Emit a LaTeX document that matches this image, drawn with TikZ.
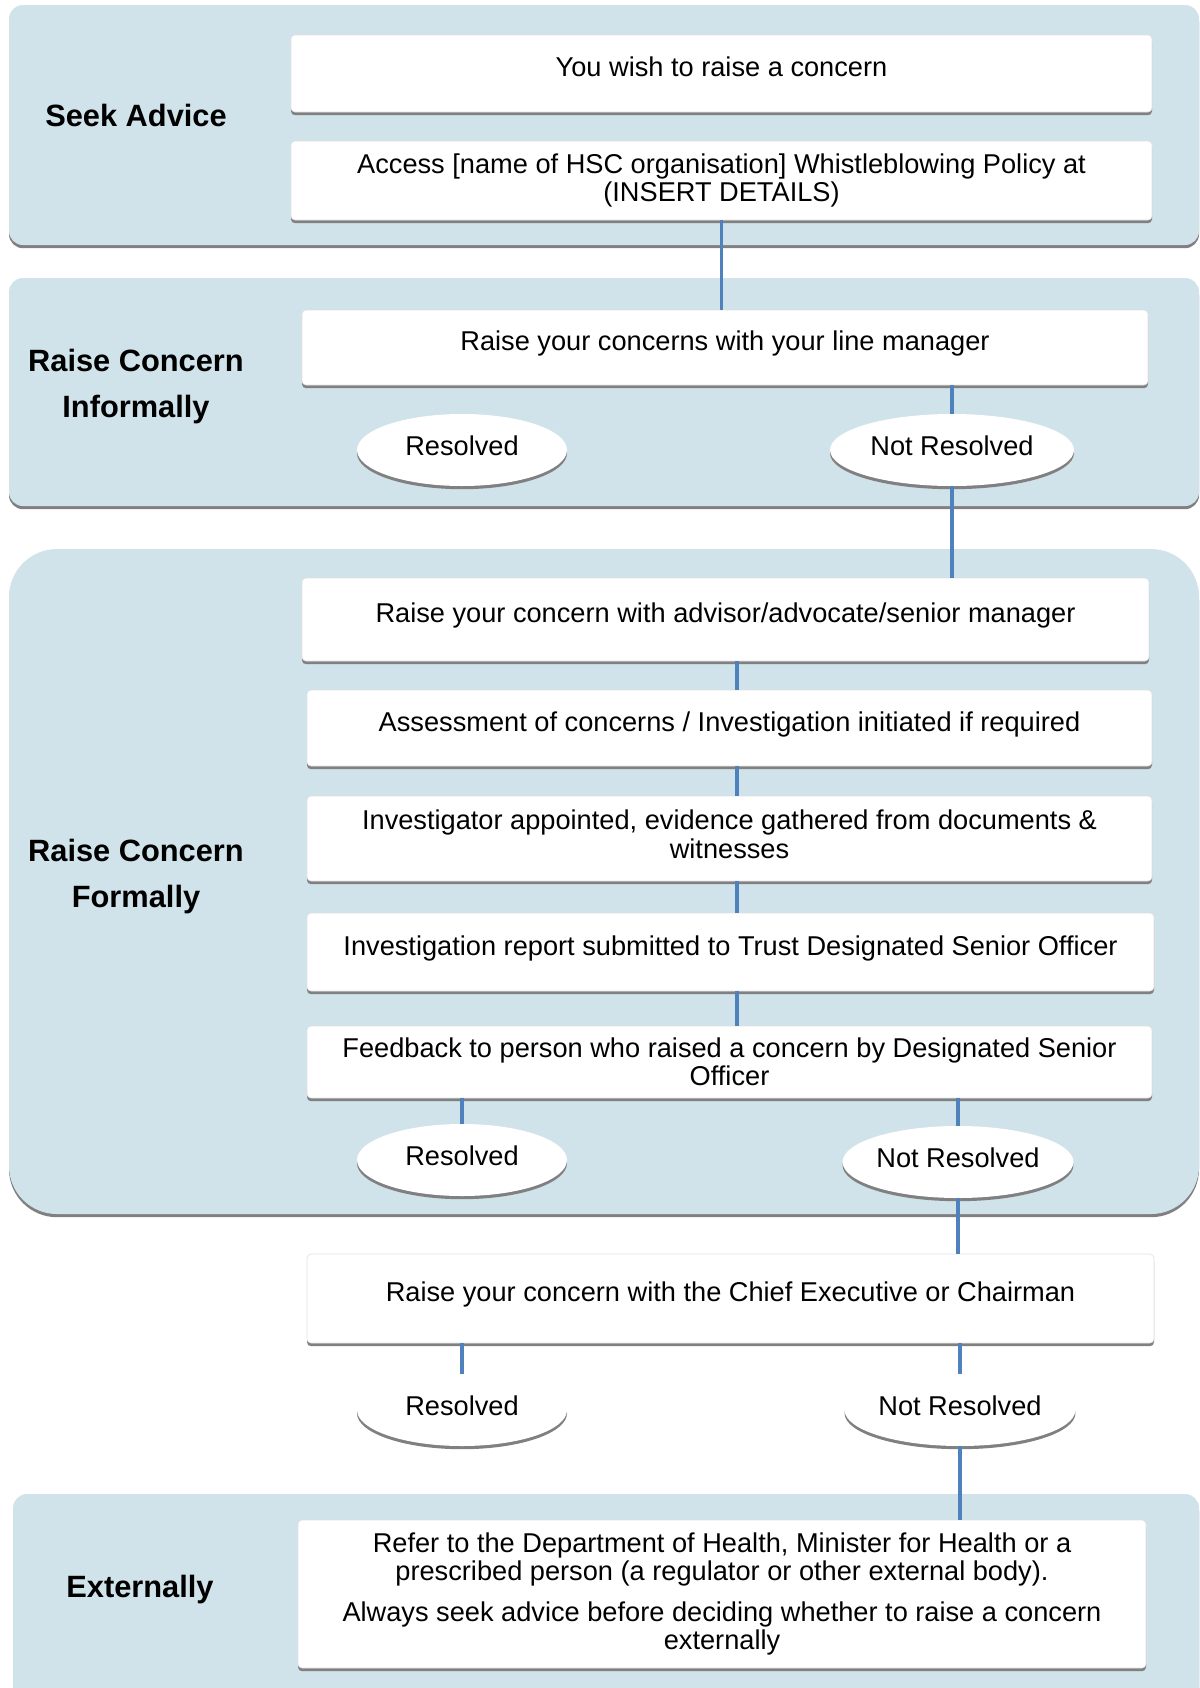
\documentclass[tikz,border=0pt]{standalone}
\usepackage{fontspec}
\setmainfont{Liberation Sans}
\usetikzlibrary{shapes.geometric,shadows}
\definecolor{panelblue}{RGB}{208,226,234}
\definecolor{linkblue}{RGB}{79,129,189}
\begin{document}
\begin{tikzpicture}[x=0.5pt,y=-0.5pt,
  shade/.style={drop shadow={shadow xshift=0pt,shadow yshift=-1.6pt,fill=black!50,opacity=1}},
  panel/.style={fill=panelblue,draw=none,rounded corners=7pt,inner sep=0pt,minimum width=595pt,shade},
  stepbox/.style={fill=white,draw=black!12,line width=0.3pt,rounded corners=2pt,inner sep=0pt,align=center,
    font=\fontsize{13.6}{14.2}\selectfont,shade},
  single/.style={text height=10pt,text depth=7pt},
  outcome/.style={ellipse,fill=white,draw=none,inner sep=0pt,minimum width=105pt,minimum height=36pt,
    font=\fontsize{13.6}{14.2}\selectfont,text height=9.9pt,text depth=4pt,shade},
  stage/.style={font=\fontsize{15.4}{23}\selectfont\bfseries,align=center},
  link/.style={draw=linkblue,line width=1.7pt}
]
\clip (0,0) rectangle (1200,1688);
\useasboundingbox (0,0) rectangle (1200,1688);

% panels
\node[panel,minimum height=120pt] (P1) at (604,125) {};
\node[panel,minimum height=114pt] (P2) at (604,392) {};
\node[panel,rounded corners=24pt,minimum height=332.5pt] (P3) at (604,881.5) {};
\node[panel,minimum width=593pt,minimum height=123pt] (P4) at (606,1617) {};

% stage labels
\node[stage] (L1) at (136,115) {Seek Advice};
\node[stage] (L2) at (136,387) {Raise Concern\\Informally};
\node[stage] (L3) at (136,877) {Raise Concern\\Formally};
\node[stage] (L4) at (140,1590) {Externally};

% boxes
\node[stepbox,single,minimum width=430.5pt,minimum height=38.5pt] (B1) at (721.5,73.5) {You wish to raise a concern};
\node[stepbox,minimum width=430.5pt,minimum height=39.5pt] (B2) at (721.5,180.5) {Access [name of HSC organisation] Whistleblowing Policy at\\(INSERT DETAILS)};
\node[stepbox,single,minimum width=423pt,minimum height=37.5pt] (B3) at (725,347.5) {Raise your concerns with your line manager};
\node[outcome] (E1) at (462,450) {Resolved};
\node[outcome,minimum width=122pt] (E2) at (952,450) {Not Resolved};

\node[stepbox,single,minimum width=423.5pt,minimum height=41.5pt] (B4) at (725.5,619.5) {Raise your concern with advisor/advocate/senior manager};
\node[stepbox,single,minimum width=422.5pt,minimum height=38pt] (B5) at (729.5,728) {Assessment of concerns / Investigation initiated if required};
\node[stepbox,minimum width=422.5pt,minimum height=42.5pt] (B6) at (729.5,838.5) {Investigator appointed, evidence gathered from documents \&\\witnesses\rule[-4.4pt]{0pt}{0pt}};
\node[stepbox,single,minimum width=423.5pt,minimum height=39pt] (B7) at (730.5,952) {Investigation report submitted to Trust Designated Senior Officer};
\node[stepbox,minimum width=422.5pt,minimum height=36pt] (B8) at (729.5,1062) {Feedback to person who raised a concern by Designated Senior\\Officer};
\node[outcome] (E3) at (462,1160) {Resolved};
\node[outcome] (E4) at (958,1162) {Not Resolved};

\node[stepbox,single,minimum width=423.5pt,minimum height=44.5pt] (B9) at (730.5,1298.5) {Raise your concern with the Chief Executive or Chairman};
\node[outcome] (E5) at (462,1410) {Resolved};
\node[outcome] (E6) at (960,1410) {Not Resolved};

\node[stepbox,minimum width=424pt,minimum height=74pt] (B10) at (722,1594) {Refer to the Department of Health, Minister for Health or a\\prescribed person (a regulator or other external body).\\[6pt]Always seek advice before deciding whether to raise a concern\\externally};

% connectors
\coordinate (spine) at (737,0);
\draw[link] (B2.south) -- (B2.south |- B3.north);
\draw[link] (B3.south -| E2.north) -- (E2.north);
\draw[link] (E2.south) -- (E2.south |- B4.north);
\draw[link] (B4.south -| spine) -- (B5.north -| spine);
\draw[link] (B5.south -| spine) -- (B6.north -| spine);
\draw[link] (B6.south -| spine) -- (B7.north -| spine);
\draw[link] (B7.south -| spine) -- (B8.north -| spine);
\draw[link] (B8.south -| E3.north) -- (E3.north);
\draw[link] (B8.south -| E4.north) -- (E4.north);
\draw[link] (E4.south) -- (E4.south |- B9.north);
\draw[link] (B9.south -| E5.north) -- (E5.north);
\draw[link] (B9.south -| E6.north) -- (E6.north);
\draw[link] (E6.south) -- (E6.south |- B10.north);
\end{tikzpicture}
\end{document}
